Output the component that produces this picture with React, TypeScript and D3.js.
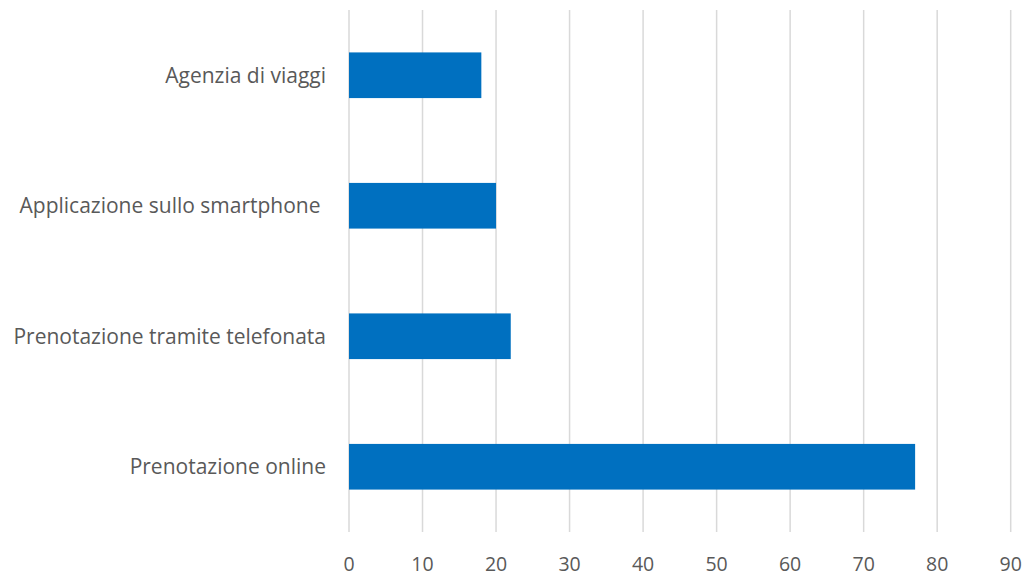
import React from "react";
import * as d3 from "d3";

const categories = [
  "Agenzia di viaggi",
  "Applicazione sullo smartphone ",
  "Prenotazione tramite telefonata",
  "Prenotazione online",
];
const values = [18, 20, 22, 77];
const xTicks = [0, 10, 20, 30, 40, 50, 60, 70, 80, 90];

const W = 1026;
const H = 576;
const left = 349;
const right = 1010.7;
const top = 10;
const bottom = 532;
const FONT = "'Open Sans', sans-serif";

export default function App() {
  const x = d3.scaleLinear().domain([0, 90]).range([left, right]);
  const y = d3
    .scaleBand<string>()
    .domain(categories)
    .range([top, bottom])
    .paddingInner(0.65)
    .paddingOuter(0.325);
  return (
    <svg
      width={W}
      height={H}
      style={{ position: "absolute", left: 0, top: 0, background: "#fff" }}
    >
      {xTicks.map((t) => (
        <line
          key={"g" + t}
          x1={x(t)}
          x2={x(t)}
          y1={top}
          y2={bottom}
          stroke="#d9d9d9"
          strokeWidth={1.5}
        />
      ))}
      {categories.map((c, i) => (
        <rect
          key={c}
          x={x(0)}
          y={y(c)}
          width={x(values[i]) - x(0)}
          height={y.bandwidth()}
          fill="#0070c0"
        />
      ))}
      {categories.map((c) => (
        <text
          key={"l" + c}
          x={326}
          y={(y(c) ?? 0) + y.bandwidth() / 2}
          dy="0.35em"
          textAnchor="end"
          fontFamily={FONT}
          fontSize={21}
          fill="#595959"
          style={{ whiteSpace: "pre" }}
        >
          {c}
        </text>
      ))}
      {xTicks.map((t) => (
        <text
          key={"t" + t}
          x={x(t)}
          y={571}
          textAnchor="middle"
          fontFamily={FONT}
          fontSize={19.5}
          fill="#595959"
        >
          {t}
        </text>
      ))}
    </svg>
  );
}
